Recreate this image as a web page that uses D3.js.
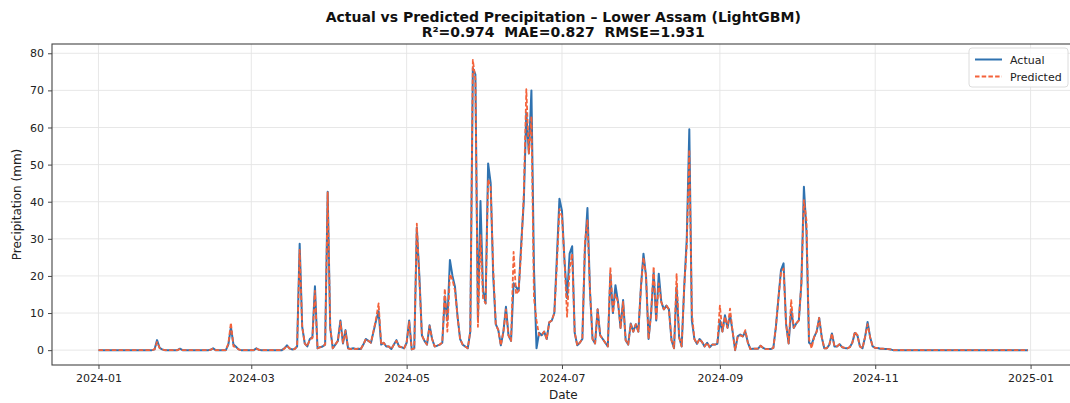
<!DOCTYPE html>
<html>
<head>
<meta charset="utf-8">
<script src="https://cdn.jsdelivr.net/npm/d3@7"></script>
<style>
  html, body { margin: 0; padding: 0; background: #fff; }
  svg { display: block; font-family: "DejaVu Sans", sans-serif; }
  text { white-space: pre; }
</style>
</head>
<body>
<svg id="chart" width="1070" height="403"></svg>
<script>
// Daily series, 2024-01-01 .. 2024-12-31 (366 days), precipitation in mm
const startDate = "2024-01-01";

const actual = [
  0,0,0,0,0,0,0,0,0,0,
  0,0,0,0,0,0,0,0,0,0,
  0,0,0.2,2.7,0.6,0.2,0,0,0,0,
  0,0,0.4,0,0,0,0,0,0,0,
  0,0,0,0,0.1,0.5,0,0,0,0,
  0,1.5,6.2,1.5,0.9,0.2,0,0,0,0,
  0,0,0.5,0.1,0,0,0,0,0,0,
  0,0,0,0.5,1.3,0.5,0.2,0.3,1.0,28.7,
  6.3,1.8,1.0,3.0,3.5,17.2,0.5,0.8,1.0,1.5,
  42.7,6.0,0.5,1.5,2.5,8.0,1.8,5.4,0.5,0.3,
  0.5,0.3,0.4,0.3,1.5,3.0,2.5,2.0,5.0,8.0,
  10.5,1.5,2.0,1.0,1.0,0.3,1.5,2.7,1.0,0.8,
  0.5,2.0,8.0,0.2,0.5,33.0,20.0,4.0,2.5,1.5,
  6.7,3.0,1.0,1.2,1.5,2.0,14.5,8.0,24.3,20.0,
  17.0,9.0,3.0,1.5,1.0,0.5,5.0,76.0,74.3,8.0,
  40.2,16.0,12.6,50.3,45.0,20.0,7.0,5.4,1.3,5.0,
  11.7,4.0,2.5,18.0,17.0,16.0,28.7,40.0,64.0,53.0,
  70.0,22.0,0.5,4.7,4.0,5.0,3.0,7.5,8.0,10.0,
  25.0,40.8,37.5,24.0,14.0,26.0,28.0,4.7,1.3,2.0,
  3.0,27.0,38.3,16.0,3.0,1.8,11.0,4.0,3.0,2.0,
  1.0,20.5,10.0,17.5,13.0,6.0,13.5,2.7,1.5,7.2,
  5.0,7.0,5.0,17.0,26.0,20.0,3.0,10.0,21.0,8.0,
  20.6,13.0,11.0,12.0,11.0,2.7,0.5,17.0,3.5,1.0,
  17.0,30.0,59.5,8.0,3.0,1.7,3.0,2.2,1.0,2.0,
  0.8,1.5,1.5,1.7,8.0,5.0,9.4,6.0,9.5,5.0,
  0.0,3.7,4.2,3.7,5.0,2.0,0.3,0.4,0.4,0.4,
  1.2,0.6,0.3,0.3,0.3,0.6,6.3,14.0,21.6,23.4,
  7.0,1.8,11.0,6.0,7.2,8.0,18.0,44.0,32.0,2.0,
  1.5,3.5,5.0,8.7,3.5,0.5,0.5,1.5,4.5,1.0,
  1.0,1.6,0.8,0.6,0.5,0.8,2.0,4.6,4.0,1.0,
  0.5,3.5,7.6,3.5,1.0,0.6,0.6,0.4,0.4,0.3,
  0.3,0.2,0,0,0,0,0,0,0,0,
  0,0,0,0,0,0,0,0,0,0,
  0,0,0,0,0,0,0,0,0,0,
  0,0,0,0,0,0,0,0,0,0,
  0,0,0,0,0,0,0,0,0,0,
  0,0,0,0,0,0
];

const predicted = [
  0,0,0,0,0,0,0,0,0,0,
  0,0,0,0,0,0,0,0,0,0,
  0,0,0.2,2.2,0.6,0.2,0,0,0,0,
  0,0,0.3,0,0,0,0,0,0,0,
  0,0,0,0,0.1,0.4,0,0,0,0,
  0,1.8,7.4,1.0,0.8,0.2,0,0,0,0,
  0,0,0.4,0.1,0,0,0,0,0,0,
  0,0,0,0.4,1.2,0.5,0.2,0.3,1.0,27.0,
  6.3,1.8,1.0,3.0,3.2,16.0,0.5,0.8,1.0,1.5,
  42.5,6.0,0.5,1.5,2.5,7.6,2.0,5.2,0.5,0.3,
  0.5,0.3,0.4,0.3,1.5,3.0,2.5,2.0,5.2,8.5,
  12.6,1.5,2.0,1.0,1.0,0.3,1.5,2.5,1.0,0.8,
  0.5,2.0,7.6,0.2,0.5,34.1,19.0,4.0,2.5,1.5,
  6.5,3.0,1.0,1.2,1.5,2.0,16.6,5.0,20.5,19.0,
  16.0,9.0,3.0,1.5,1.0,0.5,5.0,78.2,73.0,6.3,
  31.0,14.0,12.6,46.0,44.0,22.0,7.0,5.4,1.3,5.0,
  11.0,4.0,2.5,26.5,15.0,16.0,27.0,42.0,70.3,53.0,
  63.0,14.0,8.0,4.0,4.0,5.0,3.0,7.5,8.0,10.0,
  23.0,38.0,36.0,24.0,9.0,22.0,26.0,4.7,1.3,2.0,
  3.0,29.0,35.0,16.0,3.0,1.8,11.0,4.0,3.0,2.0,
  1.0,22.3,10.0,15.0,13.0,6.0,13.0,2.7,1.5,7.0,
  5.0,7.0,5.0,17.0,25.0,20.0,3.0,10.0,22.5,8.0,
  18.0,13.0,11.0,12.0,11.0,2.7,0.5,20.5,3.5,1.0,
  17.0,28.0,54.0,10.0,3.0,1.7,3.0,2.2,1.0,2.0,
  0.8,1.5,1.5,1.7,12.0,5.0,9.0,6.0,11.2,5.0,
  0.0,3.7,4.0,3.7,5.4,2.0,0.3,0.4,0.4,0.4,
  1.2,0.6,0.3,0.3,0.3,0.6,6.3,14.0,21.0,22.0,
  7.0,1.8,13.5,6.0,7.2,8.0,18.0,40.4,35.0,3.0,
  0.5,3.5,5.0,8.7,3.5,0.5,0.5,1.5,4.5,1.0,
  1.0,1.6,0.8,0.6,0.5,0.8,2.0,5.0,4.0,1.0,
  0.5,3.5,7.0,3.5,1.0,0.6,0.6,0.4,0.4,0.3,
  0.3,0.2,0,0,0,0,0,0,0,0,
  0,0,0,0,0,0,0,0,0,0,
  0,0,0,0,0,0,0,0,0,0,
  0,0,0,0,0,0,0,0,0,0,
  0,0,0,0,0,0,0,0,0,0,
  0,0,0,0,0,0
];

const xTickLabels = ["2024-01", "2024-03", "2024-05", "2024-07", "2024-09", "2024-11", "2025-01"];
const yTickValues = [0, 10, 20, 30, 40, 50, 60, 70, 80];
const seriesNames = ["Actual", "Predicted"];
const titleLines = [
  "Actual vs Predicted Precipitation \u2013 Lower Assam (LightGBM)",
  "R\u00b2=0.974  MAE=0.827  RMSE=1.931"
];

const parseDay = d3.utcParse("%Y-%m-%d");
const parseMonth = d3.utcParse("%Y-%m");
const t0 = parseDay(startDate);
const dates = actual.map((_, i) => d3.utcDay.offset(t0, i));

const svg = d3.select("#chart");
const plot = { left: 52, right: 1074.5, top: 44, bottom: 365 };
const blue = "#2f72b0", red = "#f4623a", dash = "4.5,2.2";

// 5% margins on the date axis
const first = dates[0], last = dates[dates.length - 1];
const pad = (last - first) * 0.05;
const x = d3.scaleUtc()
  .domain([new Date(+first - pad), new Date(+last + pad)])
  .range([plot.left, plot.right]);
const y = d3.scaleLinear()
  .domain([-4, 82.5])
  .range([plot.bottom, plot.top]);

svg.append("defs").append("clipPath").attr("id", "plotclip")
  .append("rect")
  .attr("x", plot.left).attr("y", plot.top)
  .attr("width", plot.right - plot.left).attr("height", plot.bottom - plot.top);

// grid
const xTicks = xTickLabels.map(s => parseMonth(s));
const grid = svg.append("g").attr("clip-path", "url(#plotclip)");
grid.selectAll("line.gx").data(xTicks).join("line")
  .attr("x1", d => x(d)).attr("x2", d => x(d))
  .attr("y1", plot.top).attr("y2", plot.bottom)
  .attr("stroke", "#e4e4e4").attr("stroke-width", 0.9);
grid.selectAll("line.gy").data(yTickValues).join("line")
  .attr("x1", plot.left).attr("x2", plot.right)
  .attr("y1", d => y(d)).attr("y2", d => y(d))
  .attr("stroke", "#e4e4e4").attr("stroke-width", 0.9);

// series
const lineGen = vals => d3.line()
  .x((d, i) => x(dates[i]))
  .y(d => y(d))(vals);

const lines = svg.append("g").attr("clip-path", "url(#plotclip)");
lines.append("path")
  .attr("d", lineGen(actual))
  .attr("fill", "none")
  .attr("stroke", blue)
  .attr("stroke-width", 2)
  .attr("stroke-linejoin", "round");
lines.append("path")
  .attr("d", lineGen(predicted))
  .attr("fill", "none")
  .attr("stroke", red)
  .attr("stroke-width", 1.8)
  .attr("stroke-dasharray", dash)
  .attr("stroke-linejoin", "round");

// axes
const xAxis = d3.axisBottom(x)
  .tickValues(xTicks)
  .tickFormat(d3.utcFormat("%Y-%m"))
  .tickSize(4).tickPadding(5);
const yAxis = d3.axisLeft(y)
  .tickValues(yTickValues)
  .tickSize(4).tickPadding(4);

const gx = svg.append("g").attr("transform", `translate(0,${plot.bottom})`).call(xAxis);
const gy = svg.append("g").attr("transform", `translate(${plot.left},0)`).call(yAxis);
[gx, gy].forEach(g => {
  g.select(".domain").remove();
  g.selectAll(".tick line").attr("stroke", "#333").attr("stroke-width", 0.9);
  g.selectAll(".tick text").attr("fill", "#222").attr("font-size", 11)
    .attr("font-family", "DejaVu Sans, sans-serif");
});

// frame
svg.append("rect")
  .attr("x", plot.left).attr("y", plot.top)
  .attr("width", plot.right - plot.left).attr("height", plot.bottom - plot.top)
  .attr("fill", "none").attr("stroke", "#444").attr("stroke-width", 1.1);

// titles
const cx = (plot.left + plot.right) / 2;
svg.selectAll("text.title").data(titleLines).join("text")
  .attr("class", "title")
  .attr("x", cx).attr("y", (d, i) => 22 + i * 15)
  .attr("text-anchor", "middle")
  .attr("font-size", 14).attr("font-weight", "bold").attr("fill", "#111")
  .text(d => d);

svg.append("text")
  .attr("x", cx).attr("y", 399)
  .attr("text-anchor", "middle")
  .attr("font-size", 12).attr("fill", "#222")
  .text("Date");

svg.append("text")
  .attr("transform", `translate(21,${(plot.top + plot.bottom) / 2}) rotate(-90)`)
  .attr("text-anchor", "middle")
  .attr("font-size", 12).attr("fill", "#222")
  .text("Precipitation (mm)");

// legend
const lg = svg.append("g").attr("transform", "translate(969,48)");
lg.append("rect")
  .attr("x", 0).attr("y", 0).attr("width", 99).attr("height", 39)
  .attr("rx", 3).attr("fill", "#fff").attr("fill-opacity", 0.85)
  .attr("stroke", "#d8d8d8").attr("stroke-width", 0.9);
const entries = [
  { name: seriesNames[0], color: blue, dash: null, w: 2 },
  { name: seriesNames[1], color: red, dash: dash, w: 1.8 }
];
entries.forEach((e, i) => {
  const yy = 11.5 + i * 17;
  lg.append("line")
    .attr("x1", 6).attr("x2", 33).attr("y1", yy).attr("y2", yy)
    .attr("stroke", e.color).attr("stroke-width", e.w)
    .attr("stroke-dasharray", e.dash);
  lg.append("text")
    .attr("x", 41).attr("y", yy + 4)
    .attr("font-size", 11).attr("fill", "#222")
    .text(e.name);
});
</script>
</body>
</html>
